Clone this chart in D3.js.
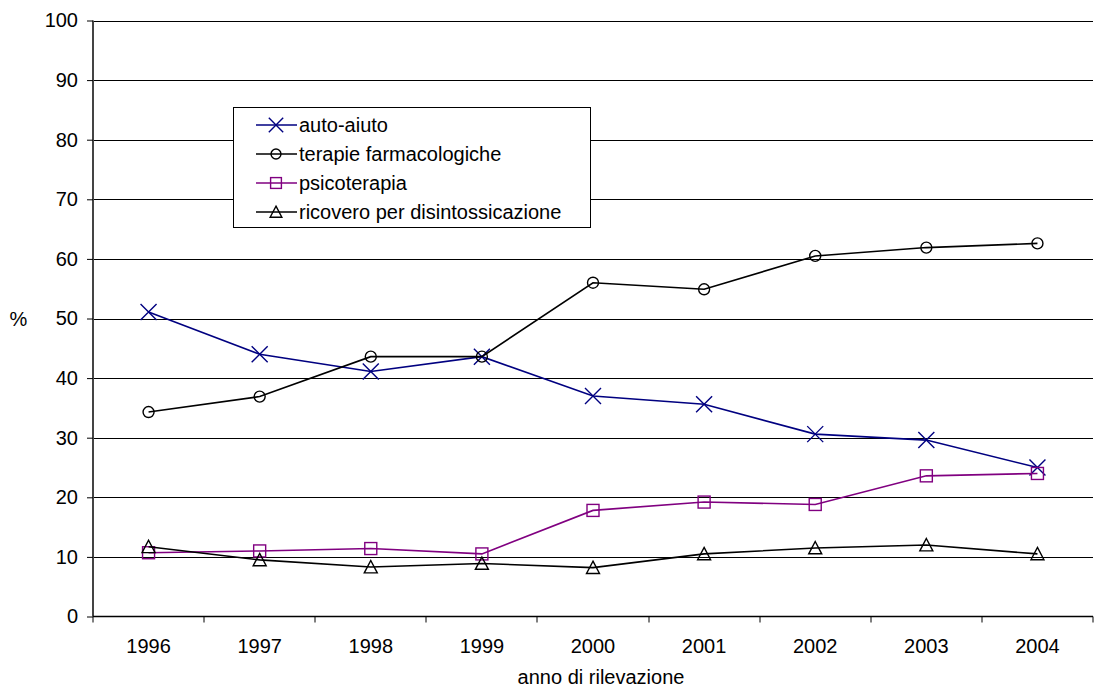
<!DOCTYPE html>
<html><head><meta charset="utf-8">
<script src="https://cdn.jsdelivr.net/npm/d3@7"></script>
<style>body{margin:0;background:#fff}svg{display:block}text{font-family:"Liberation Sans",Arial,sans-serif;fill:#000}</style>
</head><body><svg id="c" width="1094" height="689"></svg>
<script>
const years = ["1996","1997","1998","1999","2000","2001","2002","2003","2004"];
const autoAiuto = [51.1, 44.0, 41.1, 43.6, 37.0, 35.6, 30.6, 29.6, 25.0];
const terapieFarmacologiche = [34.3, 36.9, 43.6, 43.6, 56.0, 54.9, 60.5, 61.9, 62.6];
const psicoterapia = [10.7, 11.0, 11.4, 10.5, 17.8, 19.2, 18.8, 23.6, 24.0];
const ricovero = [11.7, 9.5, 8.3, 8.9, 8.2, 10.5, 11.5, 12.0, 10.5];
const yTicks = [0,10,20,30,40,50,60,70,80,90,100];
const seriesNames = ["auto-aiuto","terapie farmacologiche","psicoterapia","ricovero per disintossicazione"];

const series = [
  {name: seriesNames[0], values: autoAiuto, color: "#000080", marker: "x"},
  {name: seriesNames[1], values: terapieFarmacologiche, color: "#000000", marker: "circle"},
  {name: seriesNames[2], values: psicoterapia, color: "#800080", marker: "square"},
  {name: seriesNames[3], values: ricovero, color: "#000000", marker: "triangle"}
];

const svg = d3.select("#c");
const L = 93, R = 1093, T = 20.5, B = 616.5;
const x = d3.scaleBand().domain(years).range([L, R]);
const y = d3.scaleLinear().domain([0,100]).range([B, T]);
const FS = "20px";

// gridlines
svg.append("g").selectAll("line").data(yTicks.filter(d=>d>0)).join("line")
  .attr("x1", L).attr("x2", R).attr("y1", d=>Math.round(y(d))+0.5).attr("y2", d=>Math.round(y(d))+0.5)
  .attr("stroke", "#000").attr("stroke-width", 1);

// y axis
const yAxis = d3.axisLeft(y).tickValues(yTicks).tickSize(6).tickPadding(9);
const gy = svg.append("g").attr("transform", `translate(${L},0)`).call(yAxis);
gy.select(".domain").attr("stroke","#444").attr("stroke-width",2).attr("d", `M0,${T}V${B}`);
gy.selectAll(".tick line").attr("stroke","#000");
gy.selectAll(".tick text").attr("font-size", FS).attr("font-family","Liberation Sans, Arial, sans-serif").attr("fill","#000");

// x axis
const xAxis = d3.axisBottom(x).tickSize(0).tickPadding(22);
const gx = svg.append("g").attr("transform", `translate(0,${B})`).call(xAxis);
gx.select(".domain").attr("stroke","#000").attr("stroke-width",1.5).attr("d", `M${L},0H${R}`);
gx.selectAll(".tick text").attr("font-size", FS).attr("font-family","Liberation Sans, Arial, sans-serif").attr("fill","#000");
// category boundary ticks
const bounds = years.map(d=>x(d)).concat([R]);
svg.append("g").selectAll("line").data(bounds).join("line")
  .attr("x1", d=>Math.round(d)).attr("x2", d=>Math.round(d)).attr("y1", B).attr("y2", B+6)
  .attr("stroke","#000").attr("stroke-width",1);

// axis titles
svg.append("text").attr("x", 601).attr("y", 684).attr("text-anchor","middle").attr("font-size",FS).text("anno di rilevazione");
svg.append("text").attr("x", 18.5).attr("y", 326).attr("text-anchor","middle").attr("font-size",FS).text("%");

function drawMarker(g, type, color, cx, cy, s) {
  if (type === "x") {
    const h = 8*s;
    g.append("path").attr("d", `M${cx-h},${cy-h}L${cx+h},${cy+h}M${cx-h},${cy+h}L${cx+h},${cy-h}`)
      .attr("stroke", color).attr("stroke-width", 1.4).attr("fill","none");
  } else if (type === "circle") {
    g.append("circle").attr("cx", cx).attr("cy", cy).attr("r", 5.5*s)
      .attr("stroke", color).attr("stroke-width", 1.4).attr("fill","none");
  } else if (type === "square") {
    const h = 6*s;
    g.append("rect").attr("x", cx-h).attr("y", cy-h).attr("width", 2*h).attr("height", 2*h)
      .attr("stroke", color).attr("stroke-width", 1.4).attr("fill","none");
  } else if (type === "triangle") {
    const h = 6.5*s;
    g.append("path").attr("d", `M${cx},${cy-h}L${cx+h},${cy+h*0.9}L${cx-h},${cy+h*0.9}Z`)
      .attr("stroke", color).attr("stroke-width", 1.4).attr("fill","none");
  }
}

const line = d3.line().x((d,i)=>x(years[i]) + x.bandwidth()/2).y(d=>y(d));
series.forEach(s => {
  const g = svg.append("g");
  g.append("path").attr("d", line(s.values)).attr("fill","none").attr("stroke", s.color).attr("stroke-width", 1.6);
  s.values.forEach((v,i) => drawMarker(g, s.marker, s.color, x(years[i]) + x.bandwidth()/2, y(v), 1));
});

// legend
const lg = svg.append("g");
lg.append("rect").attr("x", 233.5).attr("y", 107.5).attr("width", 357).attr("height", 120)
  .attr("fill","#fff").attr("stroke","#000").attr("stroke-width",1);
series.forEach((s,i) => {
  const cy = 125 + i*29;
  lg.append("line").attr("x1",256).attr("x2",297).attr("y1",cy).attr("y2",cy).attr("stroke",s.color).attr("stroke-width",1.6);
  drawMarker(lg, s.marker, s.color, 276, cy, 0.9);
  lg.append("text").attr("x",299).attr("y",cy).attr("dy","0.35em").attr("font-size",FS).text(s.name);
});
</script></body></html>
